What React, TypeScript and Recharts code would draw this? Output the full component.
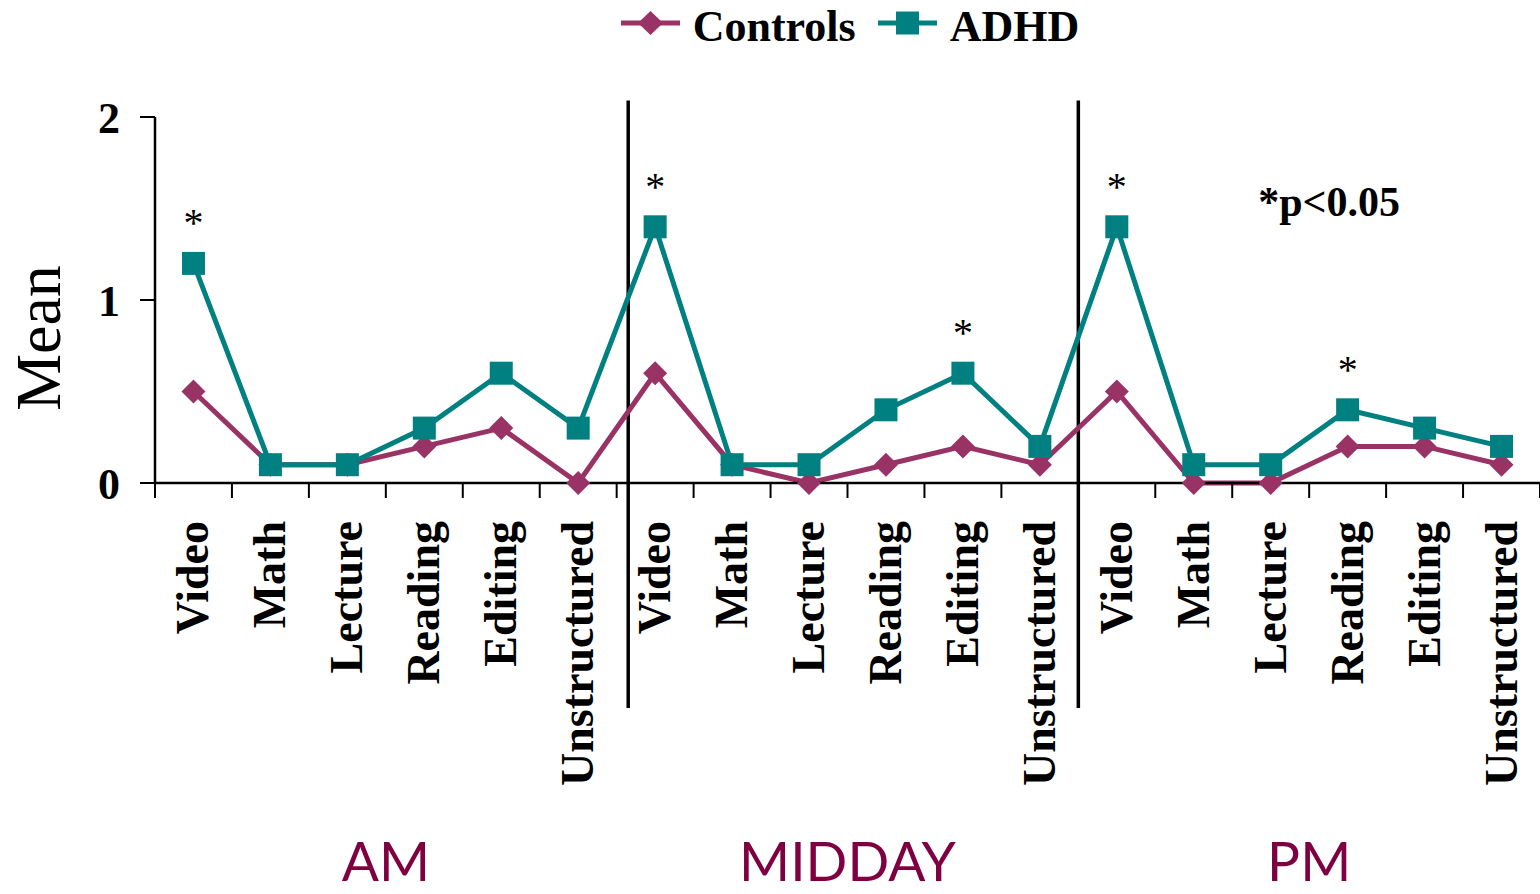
import {
  LineChart,
  Line,
  XAxis,
  YAxis,
  ReferenceLine,
  ReferenceDot,
  Legend,
  LabelList,
} from "recharts";

const activities = ["Video", "Math", "Lecture", "Reading", "Editing", "Unstructured"];
const periods = ["AM", "MIDDAY", "PM"];

// Mean per activity, AM block then MIDDAY then PM
const controls = [0.5, 0.1, 0.1, 0.2, 0.3, 0.0, 0.6, 0.1, 0.0, 0.1, 0.2, 0.1, 0.5, 0.0, 0.0, 0.2, 0.2, 0.1];
const adhd = [1.2, 0.1, 0.1, 0.3, 0.6, 0.3, 1.4, 0.1, 0.1, 0.4, 0.6, 0.2, 1.4, 0.1, 0.1, 0.4, 0.3, 0.2];
const significant = [
  true, false, false, false, false, false,
  true, false, false, false, true, false,
  true, false, false, true, false, false,
];
const yTicks = [0, 1, 2];
const sectionBreaks = [6.15, 12];
const noteText = "*p<0.05";

const CONTROLS_COLOR = "#993366";
const ADHD_COLOR = "#008080";
const PERIOD_COLOR = "#7f0040";
const SERIF = "'Liberation Serif', 'Times New Roman', serif";

const categories = periods.flatMap(() => activities);
const data = categories.map((name, i) => ({
  x: i + 0.5,
  name,
  controls: controls[i],
  adhd: adhd[i],
  sig: significant[i],
}));
const boundaryTicks = Array.from({ length: categories.length + 1 }, (_, i) => i);
const labelTicks = data.map((d) => d.x);
const periodTicks = periods.map((_, i) => i * activities.length + activities.length / 2);

const Diamond = ({ cx, cy }: any) => {
  if (cx == null || cy == null) return null;
  const r = 12;
  return (
    <polygon
      points={`${cx},${cy - r} ${cx + r},${cy} ${cx},${cy + r} ${cx - r},${cy}`}
      fill={CONTROLS_COLOR}
    />
  );
};

const Square = ({ cx, cy }: any) => {
  if (cx == null || cy == null) return null;
  return <rect x={cx - 11.5} y={cy - 11.5} width={23} height={23} fill={ADHD_COLOR} />;
};

// boundary axis only shows its tick marks
const NoTick = () => <g />;

const ActivityTick = ({ x, y, payload }: any) => {
  const ty = y + 37;
  return (
    <text
      x={x}
      y={ty}
      dy={15}
      transform={`rotate(-90 ${x} ${ty})`}
      textAnchor="end"
      fontFamily={SERIF}
      fontWeight="bold"
      fontSize={46}
      fill="#000"
    >
      {categories[Math.floor(payload.value)]}
    </text>
  );
};

const PeriodTick = ({ x, y, payload }: any) => (
  <text
    x={x}
    y={y + 57}
    textAnchor="middle"
    fontFamily="Lato, sans-serif"
    fontSize={55}
    fill={PERIOD_COLOR}
  >
    {periods[Math.floor(payload.value / activities.length)]}
  </text>
);

const StarLabel = ({ x, y, value }: any) =>
  value ? (
    <text x={x} y={y - 27} textAnchor="middle" fontFamily={SERIF} fontSize={40} fill="#000">
      *
    </text>
  ) : null;

const MeanLabel = ({ viewBox }: any) => {
  const lx = viewBox.x + 60;
  const ly = viewBox.y + viewBox.height / 2 + 38;
  return (
    <text
      x={lx}
      y={ly}
      transform={`rotate(-90 ${lx} ${ly})`}
      textAnchor="middle"
      fontFamily={SERIF}
      fontSize={64}
      fill="#000"
    >
      Mean
    </text>
  );
};

const NoteLabel = ({ viewBox }: any) => (
  <text
    x={viewBox.x}
    y={viewBox.y}
    textAnchor="middle"
    fontFamily={SERIF}
    fontWeight="bold"
    fontSize={42}
    fill="#000"
  >
    {noteText}
  </text>
);

const LegendIcon = ({ color, kind }: { color: string; kind: "diamond" | "square" }) => (
  <svg width={59} height={46} style={{ display: "block" }}>
    <line x1={0} y1={19} x2={59} y2={19} stroke={color} strokeWidth={5} />
    {kind === "diamond" ? (
      <polygon points="29.5,7 42,19 29.5,31 17,19" fill={color} />
    ) : (
      <rect x={18} y={7.5} width={23} height={23} fill={color} />
    )}
  </svg>
);

const LegendContent = () => {
  const textStyle = {
    fontFamily: SERIF,
    fontWeight: "bold" as const,
    fontSize: 44,
    lineHeight: "46px",
    color: "#000",
  };
  return (
    <div style={{ height: 117, paddingLeft: 160, boxSizing: "border-box" }}>
      <div
        style={{
          display: "flex",
          justifyContent: "center",
          alignItems: "flex-start",
          marginTop: 4,
        }}
      >
        <LegendIcon color={CONTROLS_COLOR} kind="diamond" />
        <span style={{ ...textStyle, marginLeft: 13 }}>Controls</span>
        <div style={{ width: 22 }} />
        <LegendIcon color={ADHD_COLOR} kind="square" />
        <span style={{ ...textStyle, marginLeft: 13 }}>ADHD</span>
      </div>
    </div>
  );
};

export default function App() {
  return (
    <div style={{ width: 1540, height: 894, background: "#fff" }}>
      <style>{`body { margin: 0; }`}</style>
      <LineChart width={1540} height={894} data={data} margin={{ top: 0, right: 0, bottom: 0, left: 0 }}>
        <Legend
          verticalAlign="top"
          content={LegendContent}
          wrapperStyle={{ left: 0, top: 0, width: 1540, height: 117 }}
        />
        <XAxis
          xAxisId="grid"
          dataKey="x"
          type="number"
          domain={[0, categories.length]}
          ticks={boundaryTicks}
          tick={NoTick}
          tickSize={15}
          height={1}
          interval={0}
          axisLine={{ stroke: "#000", strokeWidth: 2.5 }}
          tickLine={{ stroke: "#000", strokeWidth: 2 }}
        />
        <XAxis
          xAxisId="labels"
          dataKey="x"
          type="number"
          domain={[0, categories.length]}
          ticks={labelTicks}
          tick={ActivityTick}
          tickSize={0}
          tickMargin={0}
          height={340}
          axisLine={false}
          tickLine={false}
          interval={0}
        />
        <XAxis
          xAxisId="periods"
          dataKey="x"
          type="number"
          domain={[0, categories.length]}
          ticks={periodTicks}
          tick={PeriodTick}
          tickSize={0}
          tickMargin={0}
          height={70}
          axisLine={false}
          tickLine={false}
          interval={0}
        />
        <YAxis
          domain={[0, 2]}
          ticks={yTicks}
          width={155}
          tickSize={15}
          tickMargin={20}
          axisLine={{ stroke: "#000", strokeWidth: 2.5 }}
          tickLine={{ stroke: "#000", strokeWidth: 2 }}
          tick={{ fill: "#000", fontFamily: SERIF, fontWeight: "bold", fontSize: 44 }}
          label={MeanLabel}
        />
        {sectionBreaks.map((b) => (
          <ReferenceLine
            key={b}
            xAxisId="grid"
            segment={[
              { x: b, y: 2.09 },
              { x: b, y: -1.23 },
            ]}
            stroke="#000"
            strokeWidth={3.5}
            ifOverflow="visible"
          />
        ))}
        <ReferenceDot
          xAxisId="grid"
          x={15.26}
          y={1.46}
          r={0}
          fill="none"
          stroke="none"
          ifOverflow="visible"
          label={NoteLabel}
        />
        <Line
          xAxisId="grid"
          type="linear"
          dataKey="controls"
          name="Controls"
          stroke={CONTROLS_COLOR}
          strokeWidth={5}
          dot={<Diamond />}
          activeDot={false}
          isAnimationActive={false}
        />
        <Line
          xAxisId="grid"
          type="linear"
          dataKey="adhd"
          name="ADHD"
          stroke={ADHD_COLOR}
          strokeWidth={5}
          dot={<Square />}
          activeDot={false}
          isAnimationActive={false}
        >
          <LabelList dataKey="sig" content={StarLabel} />
        </Line>
      </LineChart>
    </div>
  );
}
